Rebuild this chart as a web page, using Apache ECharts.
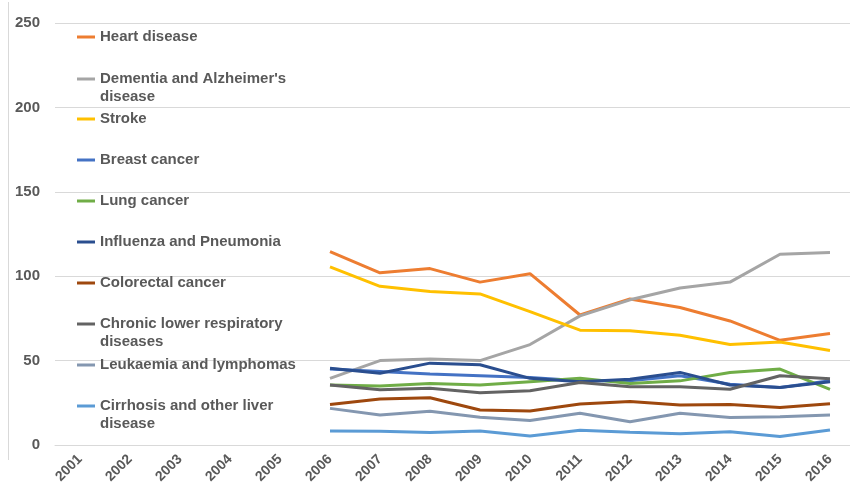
<!DOCTYPE html>
<html>
<head>
<meta charset="utf-8">
<script src="https://cdn.jsdelivr.net/npm/echarts@6/dist/echarts.min.js"></script>
<style>
  html, body { margin: 0; padding: 0; background: #ffffff; }
  #chart { width: 850px; height: 482px; }
</style>
</head>
<body>
<div id="chart"></div>
<script>
// Axis categories
const years = ['2001', '2002', '2003', '2004', '2005', '2006', '2007', '2008',
  '2009', '2010', '2011', '2012', '2013', '2014', '2015', '2016'];
// Years that carry values (2006-2016)
const firstDataYear = '2006';

// Rates per cause, 2006 to 2016
const heartDisease = [114.5, 102, 104.5, 96.5, 101.5, 77, 86.5, 81.5, 73.5, 62, 66];
const dementia = [39.5, 50, 51, 50, 59.5, 76.5, 86, 93, 96.5, 113, 114];
const stroke = [105.5, 94, 91, 89.5, 79, 68, 67.7, 65, 59.5, 61, 56];
const breastCancer = [45, 43.5, 42, 41, 40, 38, 38, 41, 36, 34, 38];
const lungCancer = [35.5, 35, 36.5, 35.5, 37.5, 39.5, 36.5, 38, 43, 45, 33];
const influenza = [45.5, 42.5, 48.5, 47.5, 39.5, 37.5, 39, 43, 35.5, 34, 37.5];
const colorectal = [24, 27.3, 28, 20.7, 20.2, 24.3, 25.7, 23.7, 24, 22.2, 24.5];
const chronicRespiratory = [35.5, 32.8, 33.6, 31, 32.2, 37, 34.5, 34.5, 33, 41, 39.3];
const leukaemia = [21.7, 17.8, 20, 16.4, 14.5, 18.8, 13.8, 18.8, 16.3, 16.8, 17.8];
const cirrhosis = [8.3, 8.1, 7.4, 8.3, 5.4, 8.8, 7.5, 6.6, 7.9, 5, 8.9];

// Y axis ticks
const yTicks = [0, 50, 100, 150, 200, 250];

// Legend entries: wrapped names keep their swatch beside the first line
const seriesDefs = [
  { name: 'Heart disease', values: heartDisease, color: '#ED7D31', legendTop: 28 },
  { name: "Dementia and Alzheimer's disease", lines: ["Dementia and Alzheimer's", 'disease'], values: dementia, color: '#A5A5A5', legendTop: 52 },
  { name: 'Stroke', values: stroke, color: '#FFC000', legendTop: 110 },
  { name: 'Breast cancer', values: breastCancer, color: '#4472C4', legendTop: 151 },
  { name: 'Lung cancer', values: lungCancer, color: '#70AD47', legendTop: 192 },
  { name: 'Influenza and Pneumonia', values: influenza, color: '#2A4E8F', legendTop: 233 },
  { name: 'Colorectal cancer', values: colorectal, color: '#9E480E', legendTop: 274 },
  { name: 'Chronic lower respiratory diseases', lines: ['Chronic lower respiratory', 'diseases'], values: chronicRespiratory, color: '#636363', legendTop: 297 },
  { name: 'Leukaemia and lymphomas', values: leukaemia, color: '#8497B0', legendTop: 356 },
  { name: 'Cirrhosis and other liver disease', lines: ['Cirrhosis and other liver', 'disease'], values: cirrhosis, color: '#5B9BD5', legendTop: 379 }
];

const textColor = '#595959';
const fontFamily = '"Liberation Sans", Arial, sans-serif';
const offset = years.indexOf(firstDataYear);

function padded(values) {
  const out = years.map(() => null);
  values.forEach((v, i) => { out[offset + i] = v; });
  return out;
}

// A blank leading line centres the swatch on the first text line
const legendLabels = {};
seriesDefs.forEach(d => {
  legendLabels[d.name] = d.lines ? ' \n' + d.lines.join('\n') : d.name;
});

const chart = echarts.init(document.getElementById('chart'), null, { renderer: 'canvas' });

chart.setOption({
  animation: false,
  backgroundColor: '#ffffff',
  grid: {
    left: 55, top: 23, width: 800, height: 422,
    containLabel: false,
    outerBoundsMode: 'none'
  },
  xAxis: {
    type: 'category',
    data: years,
    boundaryGap: true,
    axisLine: { show: true, lineStyle: { color: '#D9D9D9', width: 1 } },
    axisTick: { show: false },
    axisLabel: {
      rotate: 45,
      margin: 12,
      color: textColor,
      fontWeight: 'bold',
      fontSize: 14,
      fontFamily: fontFamily
    },
    splitLine: { show: false }
  },
  yAxis: {
    type: 'value',
    min: yTicks[0],
    max: yTicks[yTicks.length - 1],
    interval: yTicks[1] - yTicks[0],
    axisLine: { show: false },
    axisTick: { show: false },
    axisLabel: {
      margin: 15,
      color: textColor,
      fontWeight: 'bold',
      fontSize: 15,
      fontFamily: fontFamily
    },
    splitLine: { lineStyle: { color: '#D9D9D9', width: 1 } }
  },
  legend: seriesDefs.map(d => ({
    left: 77,
    top: d.legendTop,
    padding: 0,
    orient: 'vertical',
    icon: 'rect',
    itemWidth: 18,
    itemHeight: 3,
    selectedMode: false,
    data: [d.name],
    formatter: name => legendLabels[name],
    textStyle: {
      color: textColor,
      fontWeight: 'bold',
      fontSize: 15,
      lineHeight: 18,
      fontFamily: fontFamily
    }
  })),
  graphic: [
    {
      type: 'line',
      shape: { x1: 8.5, y1: 2, x2: 8.5, y2: 460 },
      style: { stroke: '#D9D9D9', lineWidth: 1 },
      silent: true
    }
  ],
  series: seriesDefs.map(d => ({
    name: d.name,
    type: 'line',
    data: padded(d.values),
    showSymbol: false,
    symbol: 'none',
    connectNulls: false,
    color: d.color,
    lineStyle: { color: d.color, width: 3 },
    itemStyle: { color: d.color }
  }))
});
</script>
</body>
</html>
